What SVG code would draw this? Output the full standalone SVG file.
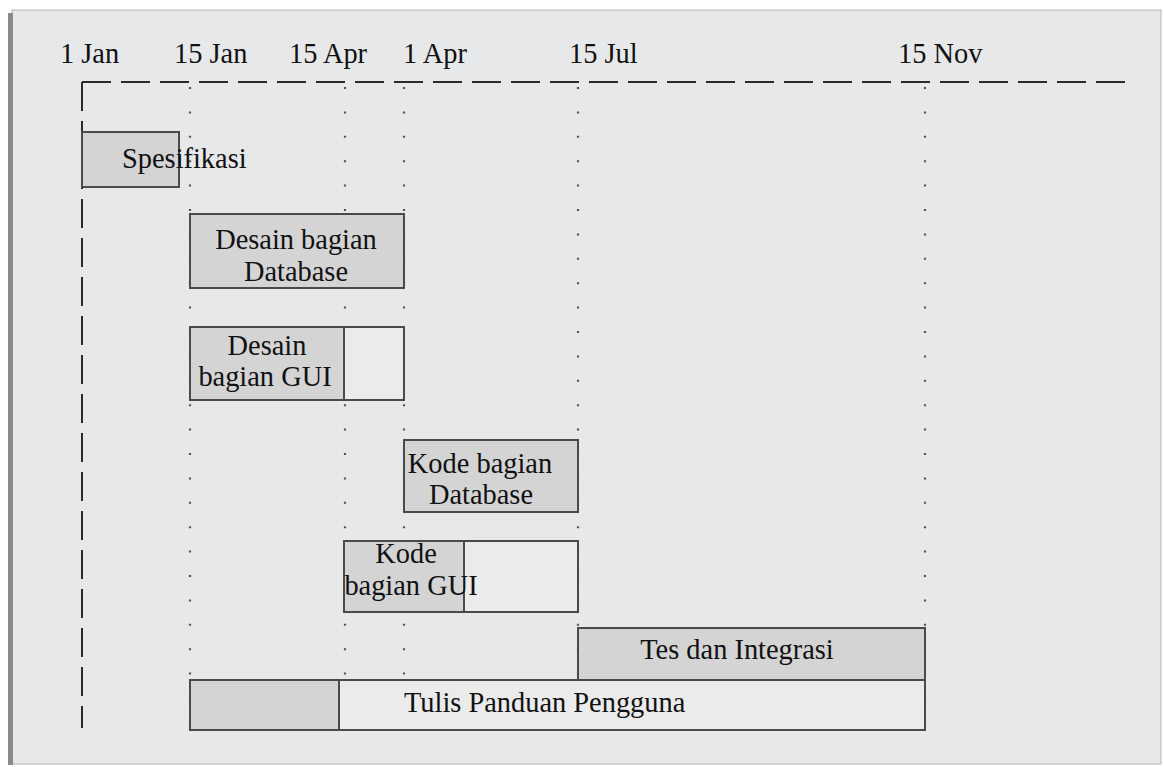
<svg xmlns="http://www.w3.org/2000/svg" width="1164" height="767" viewBox="0 0 1164 767">
<style>
text{font-family:"Liberation Serif","Times New Roman",serif;font-size:28.4px;fill:#111}
.bar{fill:#d4d4d5;stroke:#4a4a4a;stroke-width:2}
.open{fill:#ebebec;stroke:#4a4a4a;stroke-width:2}
.dot{stroke:#555;stroke-width:2.2;stroke-dasharray:2 22.4;fill:none}
.axis{stroke:#2a2a2a;stroke-width:2;stroke-dasharray:29 10;fill:none}
.mid{text-anchor:middle}
</style>
<rect x="0" y="0" width="1164" height="767" fill="#ffffff"/>
<rect x="12" y="10" width="1149" height="754" fill="#e7e8e9" stroke="#b5b5b5" stroke-width="1"/>
<rect x="8" y="13" width="5" height="752" fill="#8a8a8a"/>
<g id="timeline-labels">
<text x="60" y="63">1 Jan</text>
<text x="174" y="63">15 Jan</text>
<text x="289" y="63">15 Apr</text>
<text x="403" y="63">1 Apr</text>
<text x="569" y="63">15 Jul</text>
<text x="898" y="63">15 Nov</text>
</g>
<g id="grid">
<path class="axis" d="M82,82 H1131"/>
<path class="axis" d="M82,82 V728" stroke-dasharray="26 12"/>
<path class="dot" d="M190,87 V730 M345,87 V730 M404,87 V730 M578,87 V730 M925,87 V730"/>
</g>
<g id="spesifikasi">
<rect class="bar" x="82" y="132" width="97" height="55"/>
<text x="122" y="168">Spesifikasi</text>
</g>
<g id="desain-database">
<rect class="bar" x="190" y="214" width="214" height="74"/>
<text class="mid" x="296" y="249">Desain bagian</text>
<text class="mid" x="296" y="281">Database</text>
</g>
<g id="desain-gui">
<rect class="open" x="190" y="327" width="214" height="73"/>
<rect class="bar" x="190" y="327" width="154" height="73"/>
<text class="mid" x="267" y="355">Desain</text>
<text class="mid" x="265" y="386">bagian GUI</text>
</g>
<g id="kode-database">
<rect class="bar" x="404" y="440" width="174" height="72"/>
<text class="mid" x="480" y="473">Kode bagian</text>
<text class="mid" x="481" y="504">Database</text>
</g>
<g id="kode-gui">
<rect class="open" x="344" y="541" width="234" height="71"/>
<rect class="bar" x="344" y="541" width="120" height="71"/>
<text class="mid" x="406" y="563">Kode</text>
<text class="mid" x="411" y="595">bagian GUI</text>
</g>
<g id="tes-integrasi">
<rect class="bar" x="578" y="628" width="347" height="52"/>
<text class="mid" x="737" y="659">Tes dan Integrasi</text>
</g>
<g id="tulis-panduan">
<rect class="open" x="190" y="680" width="735" height="50"/>
<rect class="bar" x="190" y="680" width="149" height="50"/>
<text x="404" y="712">Tulis Panduan Pengguna</text>
</g>
</svg>
